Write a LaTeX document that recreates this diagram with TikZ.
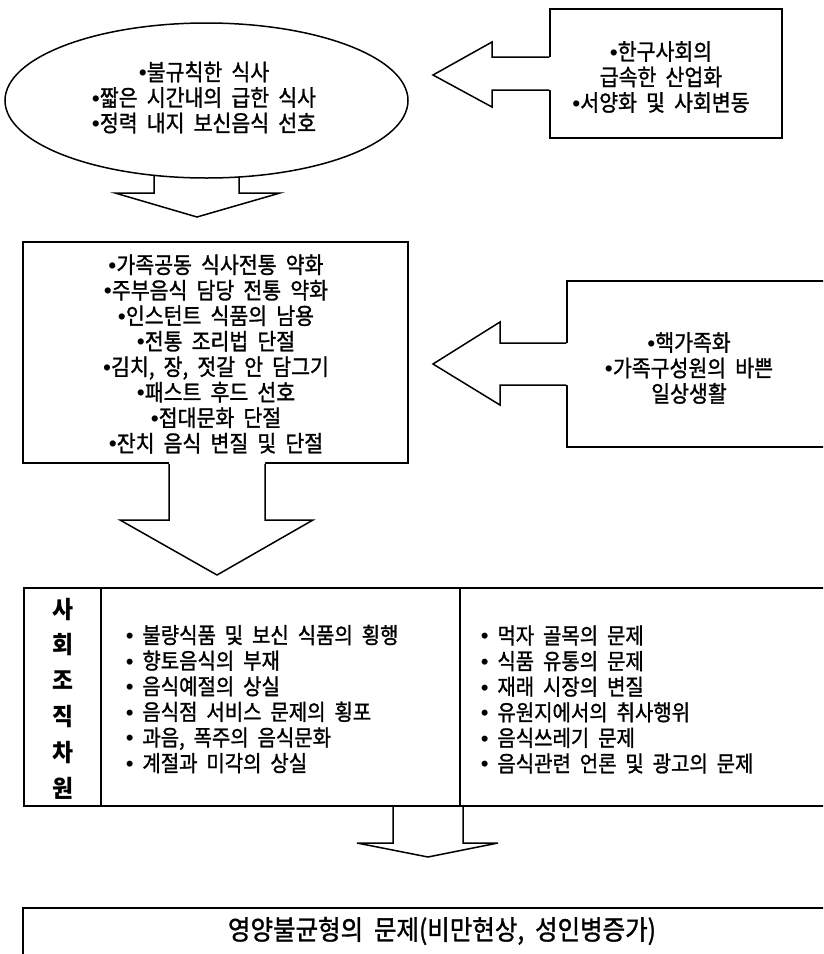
\documentclass[tikz,border=0pt]{standalone}
\usepackage{fontspec}
\setmainfont{Noto Sans CJK KR}[FakeStretch=0.9,FakeBold=1.2]
\newfontfamily\labfont{Noto Sans CJK KR}[FakeStretch=0.95]
\newfontfamily\bltfont{Liberation Sans}
\newcommand\bu{{\bltfont •}}
\newcommand\fz[2]{\fontsize{#1}{#2}\selectfont\spaceskip=0.4em\relax}
\usetikzlibrary{shapes.geometric,calc}
\begin{document}
\begin{tikzpicture}[x=1pt,y=-1pt,line width=1.5pt,line join=miter,
  shp/.style={draw,fill=white,line width=1.5pt,inner sep=0pt},
  blockarrow/.style={draw,fill=white,line width=1.5pt},
  txt/.style={inner sep=0pt,align=center,font=\fz{22.8}{25.5}},
  coltxt/.style={inner sep=0pt,align=left,anchor=west,font=\fz{22.2}{25.6}}]
\useasboundingbox (0,0) rectangle (823,954);
\clip (0,0) rectangle (823,954);
\fill[white] (0,0) rectangle (823,954);
% separate block arrows (their roots hidden under the shapes drawn later)
\coordinate (aA) at (154,150);
\draw[blockarrow] (aA) -- (154,193) -- (115,193) -- (197,217) -- (280,193) -- (239,193) -- (239,150);
\coordinate (aE) at (393,790);
\draw[blockarrow] (aE) -- (393,843) -- (357,843) -- (428,857) -- (498,843) -- (463,843) -- (463,790);
% ellipse
\node[shp,ellipse,minimum width=403pt,minimum height=155pt] (ell) at (206.5,100.5) {};
\node[txt] (t0) at (204,97.5)
  {\bu 불규칙한 식사\\ \bu 짧은 시간내의 급한 식사\\ \bu 정력 내지 보신음식 선호};
% callout 1 (box with left arrow, open where the arrow joins)
\node[shp,minimum width=232pt,minimum height=129pt] (b1) at (666,73.5) {};
\fill[white] ($(b1.west |- 0,57)+(2,0)$) -- (492,57) -- (492,42) -- (433,75) -- (492,107) -- (492,90) -- ($(b1.west |- 0,90)+(2,0)$) -- cycle;
\draw (b1.west |- 0,57) -- (492,57) -- (492,42) -- (433,75) -- (492,107) -- (492,90) -- (b1.west |- 0,90);
\node[txt] (t1) at (661,77) {\bu 한구사회의\\ 급속한 산업화\\ \bu 서양화 및 사회변동};
% callout 2 (box with down arrow)
\node[shp,minimum width=385pt,minimum height=221pt] (b2) at (215.5,352.5) {};
\fill[white] ($(b2.south -| 169,0)+(0,-2)$) -- (169,520) -- (120,520) -- (217,575) -- (313,520) -- (265,520) -- ($(b2.south -| 265,0)+(0,-2)$) -- cycle;
\draw (b2.south -| 169,0) -- (169,520) -- (120,520) -- (217,575) -- (313,520) -- (265,520) -- (b2.south -| 265,0);
\node[txt] (t2) at (216,354) {\bu 가족공동 식사전통 약화\\ \bu 주부음식 담당 전통 약화\\ \bu 인스턴트 식품의 남용\\ \bu 전통 조리법 단절\\ \bu 김치, 장, 젓갈 안 담그기\\ \bu 패스트 후드 선호\\ \bu 접대문화 단절\\ \bu 잔치 음식 변질 및 단절};
% callout 3 (box with left arrow)
\node[shp,minimum width=273pt,minimum height=166pt] (b3) at (703.5,364) {};
\fill[white] ($(b3.west |- 0,343)+(2,0)$) -- (500,343) -- (500,322) -- (433,364) -- (500,405) -- (500,385) -- ($(b3.west |- 0,385)+(2,0)$) -- cycle;
\draw (b3.west |- 0,343) -- (500,343) -- (500,322) -- (433,364) -- (500,405) -- (500,385) -- (b3.west |- 0,385);
\node[txt] (t3) at (689,368) {\bu 핵가족화\\ \bu 가족구성원의 바쁜\\ 일상생활};
% table
\node[shp,minimum width=816pt,minimum height=218pt] (b4) at (432,697) {};
\draw (b4.north -| 101,0) -- (b4.south -| 101,0);
\draw[line width=1.2pt] (b4.north -| 460,0) -- (b4.south -| 460,0);
\node[inner sep=0pt,align=center,font=\labfont\fontsize{24}{35.8}\selectfont\bfseries] (lab) at (62.5,698.5) {사\\회\\조\\직\\차\\원};
\node[coltxt] (c1) at (125,699) {\bu\ 불량식품 및 보신 식품의 횡행\\ \bu\ 향토음식의 부재\\ \bu\ 음식예절의 상실\\ \bu\ 음식점 서비스 문제의 횡포\\ \bu\ 과음, 폭주의 음식문화\\ \bu\ 계절과 미각의 상실};
\node[coltxt] (c2) at (480,699.5) {\bu\ 먹자 골목의 문제\\ \bu\ 식품 유통의 문제\\ \bu\ 재래 시장의 변질\\ \bu\ 유원지에서의 취사행위\\ \bu\ 음식쓰레기 문제\\ \bu\ 음식관련 언론 및 광고의 문제};
% result box
\node[shp,minimum width=817pt,minimum height=67pt] (b5) at (431.5,941.5) {};
\node[txt,font=\fz{27.2}{25}] (t5) at (442,931) {영양불균형의 문제(비만현상, 성인병증가)};
\end{tikzpicture}
\end{document}
